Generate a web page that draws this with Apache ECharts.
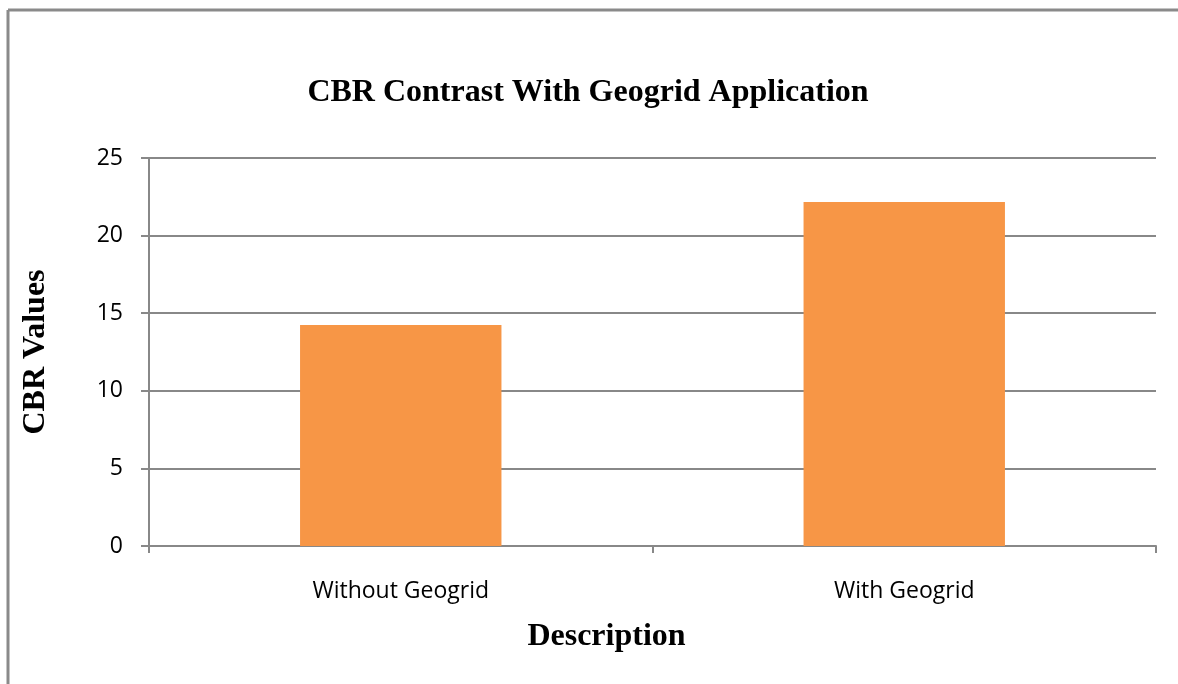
<!DOCTYPE html>
<html>
<head>
<meta charset="utf-8">
<script src="https://cdn.jsdelivr.net/npm/echarts@6/dist/echarts.min.js"></script>
<style>
  html, body { margin: 0; padding: 0; background: #fff; }
  #chart { width: 1178px; height: 684px; }
</style>
</head>
<body>
<div id="chart"></div>
<script>
// CBR test results with and without geogrid reinforcement
const categories = ['Without Geogrid', 'With Geogrid'];
const cbrValues = [14.24, 22.17];
const yTicks = { min: 0, max: 25, interval: 5 };

const chart = echarts.init(document.getElementById('chart'));
const serif = '"Liberation Serif", "DejaVu Serif", serif';
const sans = '"Open Sans", "Liberation Sans", sans-serif';

chart.setOption({
  animation: false,
  backgroundColor: '#ffffff',
  title: {
    text: 'CBR Contrast With Geogrid Application',
    left: 583,
    top: 72,
    textAlign: 'center',
    textStyle: { fontFamily: serif, fontWeight: 'bold', fontSize: 32, color: '#000' }
  },
  graphic: [
    // frame edges on the left and top
    { type: 'line', shape: { x1: 8, y1: 10, x2: 1178, y2: 10 }, style: { stroke: '#8a8a8a', lineWidth: 3 } },
    { type: 'line', shape: { x1: 8, y1: 10, x2: 8, y2: 684 }, style: { stroke: '#8a8a8a', lineWidth: 3 } }
  ],
  grid: { left: 149, right: 22, top: 158, bottom: 138 },
  xAxis: {
    type: 'category',
    data: categories,
    name: 'Description',
    nameLocation: 'middle',
    nameGap: 75,
    nameTextStyle: { fontFamily: serif, fontWeight: 'bold', fontSize: 32, color: '#000', padding: [0, 92, 0, 0] },
    axisLine: { lineStyle: { color: '#888', width: 2 } },
    axisTick: { show: true, length: 7, lineStyle: { color: '#888', width: 2 } },
    axisLabel: { margin: 34, fontFamily: sans, fontSize: 23, color: '#000' }
  },
  yAxis: {
    type: 'value',
    min: yTicks.min,
    max: yTicks.max,
    interval: yTicks.interval,
    name: 'CBR Values',
    nameLocation: 'middle',
    nameGap: 97,
    nameTextStyle: { fontFamily: serif, fontWeight: 'bold', fontSize: 32, color: '#000' },
    axisLine: { show: true, lineStyle: { color: '#888', width: 2 } },
    axisTick: { show: true, length: 8, lineStyle: { color: '#888', width: 2 } },
    axisLabel: { margin: 26, fontFamily: sans, fontSize: 23, color: '#000' },
    splitLine: { show: true, lineStyle: { color: '#888', width: 2 } }
  },
  series: [{
    type: 'bar',
    data: cbrValues,
    barWidth: '40%',
    itemStyle: { color: '#F79646' }
  }]
});
</script>
</body>
</html>
